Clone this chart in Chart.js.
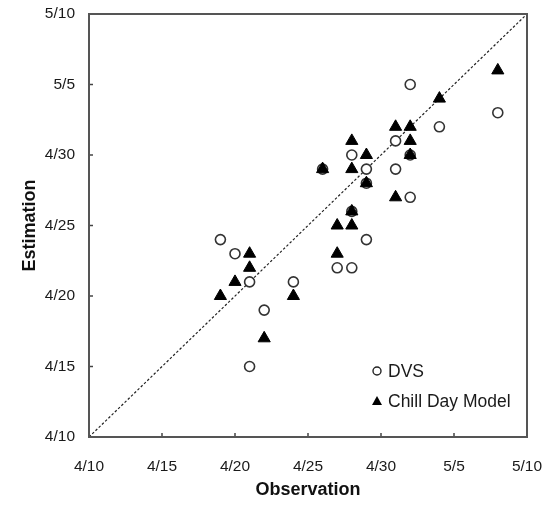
<!DOCTYPE html>
<html>
<head>
<meta charset="utf-8">
<script src="https://cdn.jsdelivr.net/npm/chart.js@4/dist/chart.umd.min.js"></script>
<style>
  html, body { margin: 0; padding: 0; background: #fff; }
  #wrap { width: 550px; height: 506px; position: relative; }
</style>
</head>
<body>
<div id="wrap"><canvas id="c" width="550" height="506"></canvas></div>
<script>
// Days counted from 4/10 (0 = 4/10, 20 = 4/30, 21 = 5/1, 30 = 5/10)
const tickLabels = ['4/10', '4/15', '4/20', '4/25', '4/30', '5/5', '5/10'];
const seriesNames = ['DVS', 'Chill Day Model'];

const dvsObs = [9, 10, 11, 12, 11, 14, 17, 18, 19, 18, 16, 18, 19, 19, 21, 21, 22, 22, 24, 22, 28];
const dvsEst = [14, 13, 11, 9, 5, 11, 12, 12, 14, 16, 19, 20, 19, 18, 21, 19, 20, 17, 22, 25, 23];

const chillObs = [9, 10, 11, 11, 12, 14, 17, 17, 18, 18, 16, 18, 19, 18, 19, 21, 22, 22, 21, 22, 24, 28];
const chillEst = [10, 11, 12, 13, 7, 10, 13, 15, 15, 16, 19, 19, 18, 21, 20, 17, 20, 21, 22, 22, 24, 26];

const lineX = [0, 30];
const lineY = [0, 30];

const toPts = (xs, ys) => xs.map((x, i) => ({ x: x, y: ys[i] }));

const FONT = "'Liberation Sans', Arial, sans-serif";
const TEXT = '#1a1a1a';

const framePlugin = {
  id: 'frame',
  afterDatasetsDraw(chart) {
    const { ctx, chartArea: a, scales } = chart;
    ctx.save();
    // ticks (inward)
    ctx.strokeStyle = '#444';
    ctx.lineWidth = 1.5;
    for (let v = 5; v < 30; v += 5) {
      const px = scales.x.getPixelForValue(v);
      ctx.beginPath(); ctx.moveTo(px, a.bottom); ctx.lineTo(px, a.bottom - 4); ctx.stroke();
      const py = scales.y.getPixelForValue(v);
      ctx.beginPath(); ctx.moveTo(a.left, py); ctx.lineTo(a.left + 4, py); ctx.stroke();
    }
    // frame
    ctx.strokeStyle = '#555';
    ctx.lineWidth = 2;
    ctx.strokeRect(a.left, a.top, a.right - a.left, a.bottom - a.top);

    // legend
    const lx = 377, ly1 = 371, ly2 = 401, tx = 388;
    ctx.strokeStyle = '#222';
    ctx.lineWidth = 1.4;
    ctx.beginPath(); ctx.arc(lx, ly1, 4, 0, Math.PI * 2);
    ctx.fillStyle = '#fff'; ctx.fill(); ctx.stroke();
    ctx.fillStyle = '#000';
    ctx.beginPath();
    ctx.moveTo(lx, ly2 - 5); ctx.lineTo(lx + 5, ly2 + 4); ctx.lineTo(lx - 5, ly2 + 4); ctx.closePath();
    ctx.fill();
    ctx.fillStyle = TEXT;
    ctx.font = '17.5px ' + FONT;
    ctx.textBaseline = 'middle';
    ctx.textAlign = 'left';
    ctx.fillText(seriesNames[0], tx, ly1 + 1);
    ctx.fillText(seriesNames[1], tx, ly2 + 1);
    ctx.restore();
  }
};

new Chart(document.getElementById('c'), {
  type: 'scatter',
  data: {
    datasets: [
      {
        label: seriesNames[1],
        data: toPts(chillObs, chillEst),
        pointStyle: 'triangle',
        pointRadius: 7,
        pointHoverRadius: 7,
        backgroundColor: '#000',
        borderColor: '#000',
        borderWidth: 1,
        order: 0
      },
      {
        label: seriesNames[0],
        data: toPts(dvsObs, dvsEst),
        pointStyle: 'circle',
        pointRadius: 5,
        pointHoverRadius: 5,
        backgroundColor: '#fff',
        borderColor: '#333',
        borderWidth: 1.6,
        order: 1
      },
      {
        type: 'line',
        label: '1:1',
        data: toPts(lineX, lineY),
        borderColor: '#222',
        borderWidth: 1.2,
        borderDash: [2.5, 2],
        pointRadius: 0,
        fill: false,
        order: 2
      }
    ]
  },
  options: {
    responsive: false,
    animation: false,
    events: [],
    layout: { padding: { left: 0, right: 23, top: 14, bottom: 0 } },
    plugins: { legend: { display: false }, tooltip: { enabled: false } },
    scales: {
      x: {
        type: 'linear',
        min: 0, max: 30,
        grid: { display: false, drawTicks: false },
        border: { display: false },
        ticks: {
          stepSize: 5,
          padding: 20,
          maxRotation: 0,
          color: TEXT,
          font: { family: FONT, size: 15.5 },
          callback: (v) => tickLabels[Math.round(v / 5)]
        },
        title: {
          display: true,
          text: 'Observation',
          color: '#111',
          font: { family: FONT, size: 18, weight: 'bold' },
          padding: { top: 0, bottom: 5 }
        },
        afterFit(s) {
          s.height = 69;
          s.paddingLeft = 0; s.paddingRight = 0; s.paddingTop = 0; s.paddingBottom = 0;
        }
      },
      y: {
        type: 'linear',
        min: 0, max: 30,
        grid: { display: false, drawTicks: false },
        border: { display: false },
        ticks: {
          stepSize: 5,
          padding: 14,
          color: TEXT,
          font: { family: FONT, size: 15.5 },
          callback: (v) => tickLabels[Math.round(v / 5)]
        },
        title: {
          display: true,
          text: 'Estimation',
          color: '#111',
          font: { family: FONT, size: 18, weight: 'bold' },
          padding: { top: 19, bottom: 0 }
        },
        afterFit(s) {
          s.width = 89;
          s.paddingLeft = 0; s.paddingRight = 0; s.paddingTop = 0; s.paddingBottom = 0;
        }
      }
    }
  },
  plugins: [framePlugin]
});
</script>
</body>
</html>
